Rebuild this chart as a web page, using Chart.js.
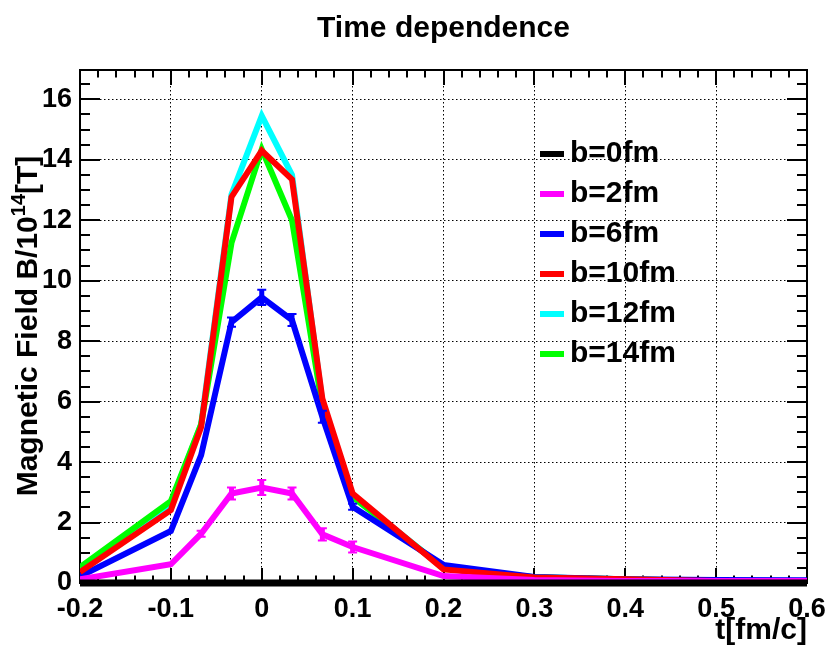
<!DOCTYPE html>
<html><head><meta charset="utf-8">
<script src="https://cdn.jsdelivr.net/npm/chart.js@4.4.0/dist/chart.umd.min.js"></script>
<style>html,body{margin:0;padding:0;background:#fff;} canvas{display:block;}</style>
</head><body>
<canvas id="c" width="827" height="647"></canvas>
<script>
// ---- data ----
const tValues = [-0.2, -0.1, -0.0667, -0.0333, 0, 0.0333, 0.0667, 0.1, 0.2, 0.3, 0.4, 0.5, 0.6];
const seriesLabels = ['b=0fm', 'b=2fm', 'b=6fm', 'b=10fm', 'b=12fm', 'b=14fm'];
const seriesColors = ['#000000', '#ff00ff', '#0000ff', '#ff0000', '#00ffff', '#00ff00'];
const b0  = [0, 0, 0, 0, 0, 0, 0, 0, 0, 0, 0, 0, 0];
const b2  = [0.12, 0.62, 1.63, 2.96, 3.16, 2.96, 1.61, 1.19, 0.23, 0.1, 0.07, 0.07, 0.07];
const b6  = [0.22, 1.72, 4.23, 8.63, 9.45, 8.7, 5.5, 2.52, 0.6, 0.2, 0.12, 0.1, 0.09];
const b10 = [0.36, 2.41, 5.16, 12.77, 14.3, 13.35, 6.1, 2.96, 0.45, 0.18, 0.12, 0.07, 0.05];
const b12 = [0.45, 2.63, 5.25, 12.85, 15.45, 13.5, 6.0, 2.9, 0.5, 0.19, 0.12, 0.07, 0.05];
const b14 = [0.52, 2.71, 5.25, 11.25, 14.35, 12.0, 5.85, 2.85, 0.5, 0.19, 0.12, 0.07, 0.05];
const b2Err = [0, 0, 0.1, 0.2, 0.25, 0.2, 0.2, 0.18, 0, 0, 0, 0, 0];
const b6Err = [0, 0, 0, 0.15, 0.25, 0.2, 0.2, 0.1, 0, 0, 0, 0, 0];
const xTickValues = [-0.2, -0.1, 0, 0.1, 0.2, 0.3, 0.4, 0.5, 0.6];
const xTickLabels = ['-0.2', '-0.1', '0', '0.1', '0.2', '0.3', '0.4', '0.5', '0.6'];
const yTickValues = [0, 2, 4, 6, 8, 10, 12, 14, 16];
const yTickLabels = ['0', '2', '4', '6', '8', '10', '12', '14', '16'];
const titleText = 'Time dependence';
const xTitle = 't[fm/c]';
const yTitleMain = 'Magnetic Field B/10';
const yTitleSup = '14';
const yTitleEnd = '[T]';

const FONT = '"Liberation Sans", Arial, Helvetica, sans-serif';
const allSeries = [b0, b2, b6, b10, b12, b14];
const drawOrder = [0, 1, 3, 2, 5, 4]; // lower = on top
const widths = [7, 6, 6, 6, 6, 6];
const errMap = {1: b2Err, 2: b6Err};

const datasets = allSeries.map((arr, i) => ({
  label: seriesLabels[i],
  data: tValues.map((t, k) => ({x: t, y: arr[k]})),
  borderColor: seriesColors[i],
  backgroundColor: seriesColors[i],
  borderWidth: widths[i],
  pointRadius: 0,
  tension: 0,
  fill: false,
  borderJoinStyle: 'miter',
  borderCapStyle: 'butt',
  clip: i === 0 ? false : undefined,
  order: drawOrder[i]
}));

const decor = {
  id: 'decor',
  beforeDatasetsDraw(chart) {
    const {ctx, chartArea: ca, scales: {x, y}} = chart;
    ctx.save();
    ctx.strokeStyle = '#000';
    ctx.lineWidth = 2;
    for (let k = 0; k <= 40; k++) {
      const v = -0.2 + k * 0.02;
      const px = Math.round(x.getPixelForValue(v));
      const len = (k % 5 === 0) ? 15 : 7.5;
      ctx.beginPath();
      ctx.moveTo(px, ca.bottom); ctx.lineTo(px, ca.bottom - len);
      ctx.moveTo(px, ca.top); ctx.lineTo(px, ca.top + len);
      ctx.stroke();
    }
    for (let k = 0; k * 0.5 <= y.max; k++) {
      const v = k * 0.5;
      const py = Math.round(y.getPixelForValue(v));
      const len = (k % 4 === 0) ? 20 : 10;
      ctx.beginPath();
      ctx.moveTo(ca.left, py); ctx.lineTo(ca.left + len, py);
      ctx.moveTo(ca.right, py); ctx.lineTo(ca.right - len, py);
      ctx.stroke();
    }
    ctx.strokeRect(ca.left, ca.top, ca.right - ca.left, ca.bottom - ca.top);
    ctx.restore();
  },
  afterDatasetsDraw(chart) {
    const {ctx, scales: {x, y}} = chart;
    ctx.save();
    Object.keys(errMap).forEach(key => {
      const idx = +key, errs = errMap[key], arr = allSeries[idx];
      ctx.strokeStyle = seriesColors[idx];
      tValues.forEach((t, k) => {
        const e = errs[k];
        if (!e) return;
        const px = x.getPixelForValue(t);
        const y1 = y.getPixelForValue(arr[k] + e);
        const y2 = y.getPixelForValue(arr[k] - e);
        ctx.lineWidth = 5;
        ctx.beginPath(); ctx.moveTo(px, y1); ctx.lineTo(px, y2); ctx.stroke();
        ctx.lineWidth = 2;
        ctx.beginPath();
        ctx.moveTo(px - 4.5, y1); ctx.lineTo(px + 4.5, y1);
        ctx.moveTo(px - 4.5, y2); ctx.lineTo(px + 4.5, y2);
        ctx.stroke();
      });
    });
    ctx.restore();
  },
  afterDraw(chart) {
    const {ctx, chartArea: ca} = chart;
    ctx.save();
    ctx.fillStyle = '#000';
    // title
    ctx.font = `bold 30px ${FONT}`;
    ctx.textAlign = 'center';
    ctx.textBaseline = 'alphabetic';
    ctx.fillText(titleText, (ca.left + ca.right) / 2, 37);
    // x title
    ctx.font = `bold 30px ${FONT}`;
    ctx.textAlign = 'right';
    ctx.fillText(xTitle, ca.right, 639);
    // y title (rotated)
    ctx.textAlign = 'left';
    const mainFont = `bold 30px ${FONT}`, supFont = `bold 20px ${FONT}`;
    ctx.font = mainFont; const w1 = ctx.measureText(yTitleMain).width; const w3 = ctx.measureText(yTitleEnd).width;
    ctx.font = supFont; const w2 = ctx.measureText(yTitleSup).width;
    const total = w1 + w2 + w3;
    ctx.translate(37, 326 + total / 2);
    ctx.rotate(-Math.PI / 2);
    ctx.font = mainFont; ctx.fillText(yTitleMain, 0, 0);
    ctx.font = supFont; ctx.fillText(yTitleSup, w1, -12);
    ctx.font = mainFont; ctx.fillText(yTitleEnd, w1 + w2, 0);
    ctx.setTransform(1, 0, 0, 1, 0, 0);
    // legend
    ctx.font = `bold 30px ${FONT}`;
    ctx.textBaseline = 'middle';
    chart.data.datasets.forEach((ds, i) => {
      const yy = 154 + 40 * i;
      ctx.fillStyle = ds.borderColor;
      ctx.fillRect(540, yy - 3, 24, 6);
      ctx.fillStyle = '#000';
      ctx.fillText(ds.label, 570, yy);
    });
    ctx.restore();
  }
};

new Chart(document.getElementById('c'), {
  type: 'line',
  data: {datasets},
  options: {
    responsive: false,
    animation: false,
    devicePixelRatio: 1,
    layout: {padding: {left: 0, right: 20, top: 70, bottom: 0}},
    plugins: {legend: {display: false}, tooltip: {enabled: false}, title: {display: false}},
    scales: {
      x: {
        type: 'linear', min: -0.2, max: 0.6,
        afterFit: s => { s.height = 64; s.paddingLeft = 0; s.paddingRight = 0; },
        afterBuildTicks: s => { s.ticks = xTickValues.map(v => ({value: v})); },
        ticks: {
          callback: v => xTickLabels[xTickValues.indexOf(v)],
          font: {family: FONT, size: 27, weight: 'bold'}, color: '#000',
          padding: 10, maxRotation: 0, autoSkip: false
        },
        grid: {color: '#000', lineWidth: 1, drawTicks: false},
        border: {display: false, dash: [1.5, 2.5]}
      },
      y: {
        type: 'linear', min: 0, max: 16.97,
        afterFit: s => { s.width = 80; s.paddingTop = 0; s.paddingBottom = 0; },
        afterBuildTicks: s => { s.ticks = yTickValues.map(v => ({value: v})); },
        ticks: {
          callback: v => yTickLabels[yTickValues.indexOf(v)],
          font: {family: FONT, size: 27, weight: 'bold'}, color: '#000',
          padding: 8, autoSkip: false
        },
        grid: {color: '#000', lineWidth: 1, drawTicks: false},
        border: {display: false, dash: [1.5, 2.5]}
      }
    }
  },
  plugins: [decor]
});
</script>
</body></html>
